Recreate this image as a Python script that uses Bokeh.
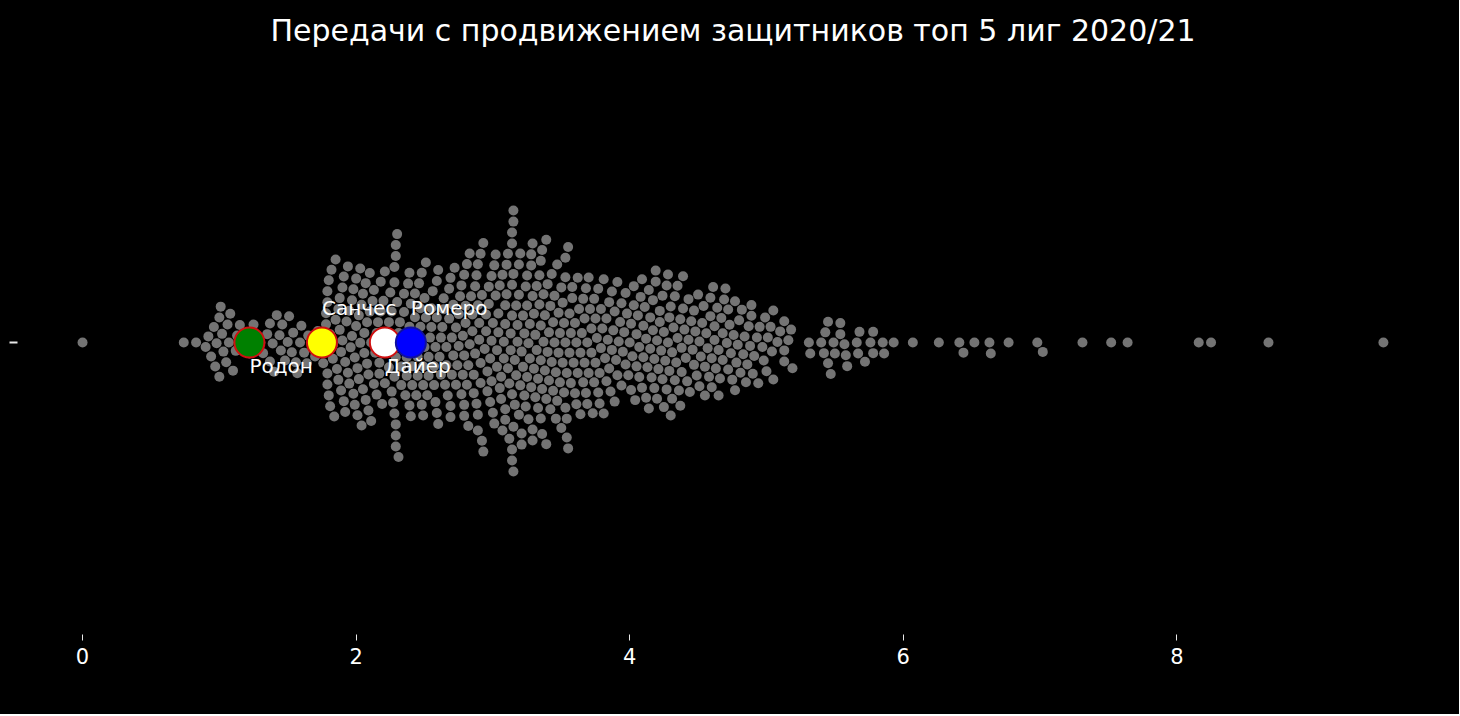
import numpy as np
from bokeh.plotting import figure
from bokeh.models import Range1d, FixedTicker, ColumnDataSource
from bokeh.core.properties import value
from bokeh.embed import file_html
from bokeh.resources import INLINE

# ---------------- data ----------------
title_text = "Передачи с продвижением защитников топ 5 лиг 2020/21"

left_tail = [0.00, 0.74, 0.83, 0.90, 0.92, 0.94, 0.96, 0.97, 0.98, 1.00, 1.00, 1.01,
             1.02, 1.03, 1.05, 1.06, 1.07, 1.08, 1.10, 1.12, 1.13, 1.15, 1.18, 1.21,
             1.22, 1.25, 1.30, 1.32, 1.35, 1.37, 1.37, 1.39, 1.40, 1.42, 1.44, 1.45,
             1.46, 1.48, 1.50, 1.51, 1.53, 1.54, 1.56, 1.57, 1.59, 1.60, 1.62, 1.64,
             1.65, 1.68, 1.70, 1.72, 1.75]

core_a = [1.76, 1.77, 1.78, 1.78, 1.79, 1.79, 1.79, 1.79,
          1.80, 1.80, 1.81, 1.81, 1.82, 1.83, 1.83, 1.84, 1.85, 1.85, 1.86, 1.87, 1.87, 1.88, 1.88, 1.89, 1.89,
          1.90, 1.90, 1.91, 1.91, 1.92, 1.92, 1.93, 1.94, 1.94, 1.95, 1.95, 1.96, 1.97, 1.97, 1.98, 1.98, 1.99, 1.99,
          2.00, 2.00, 2.01, 2.01, 2.02, 2.02, 2.03, 2.03, 2.04, 2.04, 2.05, 2.05, 2.06, 2.06, 2.07, 2.07, 2.08, 2.08, 2.09, 2.09,
          2.10, 2.10, 2.11, 2.11, 2.12, 2.13, 2.13, 2.14, 2.15, 2.15, 2.16, 2.17, 2.17, 2.18, 2.18, 2.19, 2.19,
          2.20, 2.21, 2.21, 2.22, 2.23, 2.24, 2.24, 2.25, 2.26, 2.26, 2.27, 2.27, 2.28, 2.28, 2.28, 2.28, 2.29, 2.29, 2.29, 2.29, 2.29, 2.29,
          2.30, 2.30, 2.31, 2.31, 2.32, 2.33, 2.33, 2.34, 2.35, 2.35, 2.36, 2.37, 2.37, 2.38, 2.38, 2.39, 2.39, 2.39,
          2.40, 2.40, 2.41, 2.41, 2.42, 2.43, 2.43, 2.44, 2.45, 2.45, 2.46, 2.46, 2.47, 2.47, 2.48, 2.48, 2.49, 2.49, 2.49]

core_b = [2.50, 2.50, 2.51, 2.51, 2.52, 2.53, 2.53, 2.54, 2.55, 2.55, 2.56, 2.57, 2.57, 2.58, 2.58, 2.59, 2.59, 2.59,
          2.60, 2.60, 2.61, 2.62, 2.62, 2.63, 2.64, 2.64, 2.65, 2.66, 2.66, 2.67, 2.68, 2.68, 2.69, 2.69, 2.69,
          2.70, 2.70, 2.71, 2.71, 2.72, 2.73, 2.73, 2.74, 2.75, 2.75, 2.76, 2.77, 2.77, 2.78, 2.78, 2.79, 2.79, 2.79, 2.79,
          2.80, 2.80, 2.81, 2.81, 2.82, 2.82, 2.83, 2.83, 2.84, 2.85, 2.85, 2.86, 2.86, 2.87, 2.87, 2.88, 2.88, 2.89, 2.89, 2.89, 2.89,
          2.90, 2.90, 2.91, 2.91, 2.91, 2.92, 2.92, 2.93, 2.93, 2.94, 2.95, 2.95, 2.96, 2.96, 2.97, 2.97, 2.98, 2.98, 2.99, 2.99, 2.99,
          3.00, 3.00, 3.01, 3.01, 3.02, 3.02, 3.03, 3.03, 3.04, 3.04, 3.05, 3.05, 3.06, 3.06, 3.07, 3.07, 3.08, 3.08, 3.09, 3.09, 3.09, 3.09,
          3.10, 3.10, 3.11, 3.11, 3.12, 3.12, 3.13, 3.13, 3.14, 3.14, 3.14, 3.14, 3.14, 3.14, 3.14, 3.15, 3.15, 3.15, 3.15, 3.15,
          3.16, 3.16, 3.17, 3.17, 3.18, 3.18, 3.19, 3.19, 3.19,
          3.20, 3.20, 3.21, 3.21, 3.21, 3.22, 3.22, 3.23, 3.23, 3.24, 3.24, 3.25, 3.25, 3.25, 3.26, 3.26, 3.27, 3.27, 3.28, 3.28, 3.28, 3.29, 3.29, 3.29, 3.29,
          3.30, 3.30, 3.31, 3.31, 3.32, 3.32, 3.33, 3.33, 3.34, 3.34, 3.35, 3.35, 3.35, 3.35, 3.36, 3.36, 3.36, 3.37, 3.37, 3.38, 3.38, 3.39, 3.39, 3.39,
          3.40, 3.40, 3.41, 3.41, 3.42, 3.42, 3.43, 3.43, 3.44, 3.44, 3.45, 3.45, 3.46, 3.46, 3.47, 3.47, 3.48, 3.48, 3.49, 3.49]

core_c = [3.50, 3.50, 3.51, 3.51, 3.52, 3.52, 3.53, 3.53, 3.53, 3.53, 3.54, 3.54, 3.54, 3.55, 3.55, 3.56, 3.56, 3.57, 3.57, 3.58, 3.58, 3.59,
          3.60, 3.60, 3.61, 3.61, 3.62, 3.62, 3.63, 3.64, 3.64, 3.65, 3.66, 3.66, 3.67, 3.67, 3.68, 3.68, 3.69, 3.69,
          3.70, 3.70, 3.71, 3.72, 3.72, 3.73, 3.74, 3.74, 3.75, 3.75, 3.76, 3.77, 3.77, 3.78, 3.78, 3.79, 3.79,
          3.80, 3.81, 3.81, 3.82, 3.83, 3.83, 3.84, 3.85, 3.85, 3.86, 3.87, 3.87, 3.88, 3.89, 3.89,
          3.90, 3.91, 3.91, 3.92, 3.93, 3.94, 3.94, 3.95, 3.96, 3.97, 3.97, 3.98, 3.99,
          4.00, 4.01, 4.01, 4.02, 4.03, 4.03, 4.04, 4.05, 4.05, 4.06, 4.07, 4.07, 4.08, 4.09, 4.09,
          4.10, 4.10, 4.11, 4.12, 4.12, 4.13, 4.14, 4.14, 4.15, 4.15, 4.16, 4.17, 4.17, 4.18, 4.18, 4.19, 4.19,
          4.20, 4.20, 4.21, 4.22, 4.22, 4.23, 4.24, 4.24, 4.25, 4.25, 4.26, 4.27, 4.27, 4.28, 4.28, 4.29, 4.29,
          4.30, 4.30, 4.31, 4.31, 4.32, 4.33, 4.33, 4.34, 4.35, 4.35, 4.36, 4.37, 4.37, 4.38, 4.38, 4.39, 4.39,
          4.40, 4.41, 4.42, 4.43, 4.43, 4.44, 4.45, 4.46, 4.47, 4.47, 4.48, 4.49,
          4.50, 4.51, 4.51, 4.52, 4.53, 4.54, 4.55, 4.55, 4.56, 4.57, 4.58, 4.59, 4.59,
          4.60, 4.60, 4.61, 4.62, 4.62, 4.63, 4.64, 4.65, 4.65, 4.66, 4.67, 4.68, 4.68, 4.69,
          4.70, 4.71, 4.72, 4.72, 4.73, 4.74, 4.75, 4.76, 4.77, 4.77, 4.78, 4.79,
          4.80, 4.81, 4.82, 4.83, 4.84, 4.85, 4.86, 4.87, 4.88, 4.89, 4.89,
          4.90, 4.91, 4.93, 4.94, 4.95, 4.97, 4.98, 4.99,
          5.00, 5.01, 5.03, 5.04]

right_tail = [5.05, 5.05, 5.08, 5.10, 5.13, 5.13, 5.13, 5.16, 5.18, 5.19, 5.31, 5.32,
              5.40, 5.42, 5.43, 5.45, 5.45, 5.47, 5.49, 5.50, 5.54, 5.54, 5.57, 5.58,
              5.59, 5.66, 5.67, 5.68, 5.72, 5.76, 5.78, 5.78, 5.85, 5.86, 5.93, 6.07,
              6.26, 6.41, 6.44, 6.52, 6.63, 6.64, 6.77, 6.98, 7.02, 7.31, 7.52, 7.64,
              8.16, 8.25, 8.67, 9.51]

hl_names = ["Родон", "Санчес", "Дайер", "Ромеро"]
hl_values = [1.22, 1.75, 2.21, 2.40]
hl_fill = ["green", "yellow", "white", "blue"]
hl_edge = ["#d01010", "#d01010", "#d01010", "#1010a0"]
hl_label_above = [False, True, False, True]

x_ticks = [0, 2, 4, 6, 8]

# ---------------- layout constants ----------------
FONT = "DejaVu Sans"
X0, X1 = -0.4755, 9.986
FW, FH = 1431, 584
PPU = FW / (X1 - X0)          # px per x unit
R = 5.25                      # swarm collision radius (px)
DOT = 10                      # drawn dot diameter (px)


def beeswarm(vals):
    """seaborn-like beeswarm: returns (sorted values, offsets in px)"""
    vals = np.sort(np.asarray(vals, dtype=float))
    pos = vals * PPU
    sw_pos, sw_off = [], []
    for p_i in pos:
        nb = []
        for j in range(len(sw_pos) - 1, -1, -1):
            if p_i - sw_pos[j] < 2 * R:
                nb.append(j)
            else:
                break
        cands = [0.0]
        left_first = True
        for j in nb:
            dy = p_i - sw_pos[j]
            dx = np.sqrt(max((2 * R) ** 2 - dy ** 2, 0.0)) * 1.05
            a, b = sw_off[j] - dx, sw_off[j] + dx
            cands.extend([a, b] if left_first else [b, a])
            left_first = not left_first
        cands.sort(key=abs)
        chosen = cands[0]
        if nb:
            npos = np.array([sw_pos[j] for j in nb])
            noff = np.array([sw_off[j] for j in nb])
            for c in cands:
                d2 = (npos - p_i) ** 2 + (noff - c) ** 2
                if np.all(d2 >= (2 * R) ** 2 - 1e-9):
                    chosen = c
                    break
        sw_pos.append(p_i)
        sw_off.append(chosen)
    return vals, np.array(sw_off)


all_vals = left_tail + core_a + core_b + core_c + right_tail
sx, soff = beeswarm(all_vals)
sy = soff / FH

p = figure(frame_width=FW, frame_height=FH,
           x_range=Range1d(X0, X1), y_range=Range1d(-0.5, 0.5),
           output_backend="svg", toolbar_location=None,
           background_fill_color="black", border_fill_color="black",
           outline_line_color=None,
           min_border_left=17, min_border_right=11, min_border_top=50, min_border_bottom=80)
p.styles = {"background-color": "black"}

p.title.text = title_text
p.title.align = "center"
p.title.text_color = "white"
p.title.text_font = FONT
p.title.text_font_size = "30px"
p.title.text_font_style = "normal"
p.title.standoff = 6

p.xgrid.visible = False
p.ygrid.visible = False

p.xaxis.ticker = FixedTicker(ticks=x_ticks)
p.xaxis.axis_line_color = None
p.xaxis.major_tick_line_color = "#e8e8e8"
p.xaxis.major_tick_out = 6
p.xaxis.major_tick_in = 0
p.xaxis.minor_tick_line_color = None
p.xaxis.major_label_text_color = "white"
p.xaxis.major_label_text_font = FONT
p.xaxis.major_label_text_font_size = "21px"
p.xaxis.major_label_standoff = 7

p.yaxis.ticker = FixedTicker(ticks=[0])
p.yaxis.major_label_overrides = {0: ""}
p.yaxis.axis_line_color = None
p.yaxis.major_tick_line_color = "#e8e8e8"
p.yaxis.major_tick_line_width = 2
p.yaxis.major_tick_out = 8
p.yaxis.major_tick_in = 0
p.yaxis.minor_tick_line_color = None
p.yaxis.major_label_standoff = 0

p.scatter(x=sx, y=sy, size=DOT, fill_color="#747474", line_color=None)

hl_src = ColumnDataSource(dict(x=hl_values, y=[0.0] * len(hl_values),
                               fill=hl_fill, edge=hl_edge, name=hl_names,
                               ly=[(35 if a else -23) / FH for a in hl_label_above]))
p.scatter(x="x", y="y", size=30, fill_color="fill", line_color="edge",
          line_width=2, source=hl_src)
p.text(x="x", y="ly", text="name", source=hl_src, text_color="white",
       text_font=value(FONT), text_font_size="20px",
       text_align="left", text_baseline="middle")

open("out.html", "w").write(file_html(p, INLINE))
